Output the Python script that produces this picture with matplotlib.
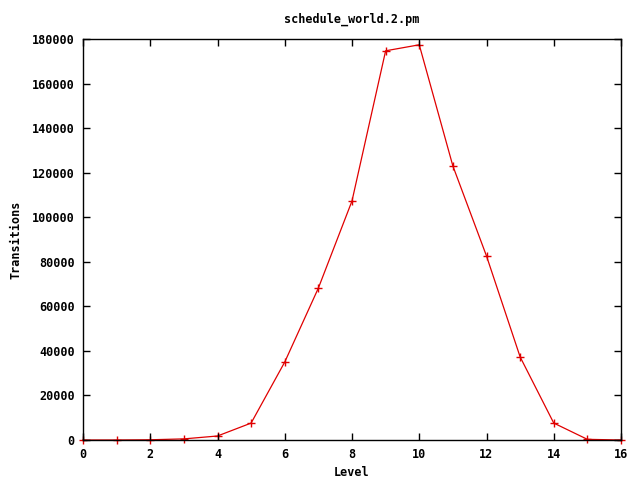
import matplotlib
matplotlib.use('Agg')
import matplotlib.pyplot as plt

# levels and transition counts
levels = [0, 1, 2, 3, 4, 5, 6, 7, 8, 9, 10, 11, 12, 13, 14, 15, 16]
transitions = [1, 10, 100, 500, 1800, 7600, 35000, 68200, 107300, 174700,
               177400, 123000, 82600, 37300, 7600, 300, 0]

plt.rcParams['font.family'] = 'DejaVu Sans Mono'
plt.rcParams['font.weight'] = 'bold'
plt.rcParams['font.size'] = 8

fig = plt.figure(figsize=(6.4, 4.8), dpi=100)
ax = fig.add_axes([83/640, 40/480, 538/640, 401/480])

ax.plot(levels, transitions, color='#e00000', lw=0.9, marker='+',
        markersize=6, markeredgewidth=1.0, clip_on=False, zorder=1)

ax.set_xlim(0, 16)
ax.set_ylim(0, 180000)
ax.set_xticks(range(0, 17, 2))
ax.set_yticks(range(0, 180001, 20000))
ax.tick_params(direction='in', length=5, width=1, top=True, right=True,
               pad=6, labelsize=8.5)
for s in ax.spines.values():
    s.set_linewidth(1)
    s.set_zorder(3)

ax.set_title('schedule_world.2.pm', fontsize=8.5, fontweight='bold', pad=12)
ax.set_xlabel('Level', fontsize=8.5, fontweight='bold', labelpad=3)
ax.set_ylabel('Transitions', fontsize=8.5, fontweight='bold', labelpad=7)

fig.savefig('out.png', dpi=100)
